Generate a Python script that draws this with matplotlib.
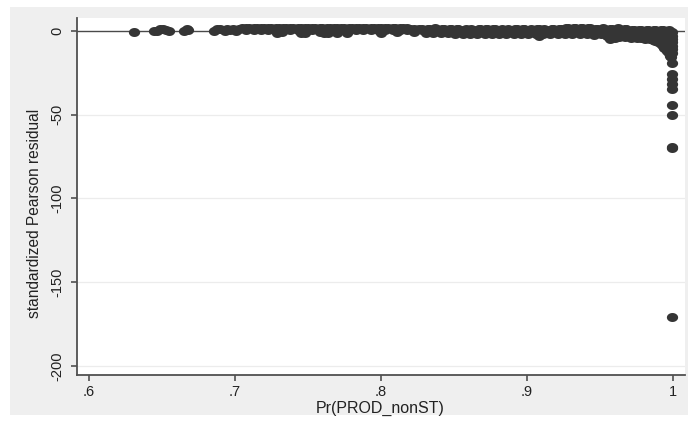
import numpy as np
import matplotlib
matplotlib.use("Agg")
import matplotlib.pyplot as plt
from matplotlib.path import Path
from matplotlib.patches import Rectangle

plt.rcParams['font.family'] = ['Liberation Sans', 'DejaVu Sans']

# ---------------- data ----------------
x_left = [0.631, 0.645, 0.647, 0.649, 0.651, 0.653, 0.655, 0.665, 0.667, 0.668,
          0.686, 0.688, 0.690, 0.693, 0.695, 0.697, 0.699, 0.701, 0.703]
y_left = [-1.0, -0.4, -0.2, 1.0, 1.3, 0.3, -0.3, -0.3, 1.2, 0.2,
          -0.3, 1.2, 0.8, -0.2, 1.2, 0.4, 1.3, -0.2, 1.0]

x_top = [0.705, 0.710, 0.715, 0.720, 0.725, 0.730, 0.735, 0.740, 0.745, 0.750,
         0.755, 0.760, 0.765, 0.770, 0.775, 0.780, 0.785, 0.790, 0.795, 0.800,
         0.805, 0.810, 0.815, 0.820, 0.826, 0.832, 0.837, 0.842, 0.847, 0.852,
         0.857, 0.862, 0.867, 0.872, 0.877, 0.882, 0.887, 0.892, 0.897, 0.902,
         0.907, 0.912, 0.917, 0.922, 0.927, 0.932, 0.937, 0.942, 0.947, 0.952,
         0.957, 0.962, 0.967, 0.972, 0.977, 0.982, 0.987, 0.992, 0.997]
y_top = [1.6, 1.5, 1.7, 1.6, 1.5, 1.6, 1.7, 1.5, 1.6, 1.6,
         1.5, 1.7, 1.6, 1.5, 1.6, 1.7, 1.6, 1.5, 1.6, 1.6,
         1.7, 1.5, 1.6, 1.2, 0.9, 1.0, 1.4, 0.8, 0.9, 0.8,
         0.7, 0.8, 0.9, 0.8, 0.8, 0.7, 0.8, 0.9, 0.8, 0.7,
         0.8, 0.9, 0.8, 0.8, 1.5, 1.6, 1.7, 1.5, 1.0, 1.4,
         0.9, 1.4, 0.8, 0.7, 0.6, 0.7, 0.5, 0.6, 0.5]

x_mid = [0.708, 0.713, 0.718, 0.723, 0.728, 0.733, 0.738, 0.743, 0.748, 0.753,
         0.758, 0.763, 0.768, 0.773, 0.778, 0.783, 0.788, 0.793, 0.798, 0.803,
         0.808, 0.813, 0.818, 0.823, 0.828, 0.833, 0.838, 0.843, 0.848, 0.853,
         0.858, 0.863, 0.868, 0.873, 0.878, 0.883, 0.888, 0.893, 0.898, 0.903,
         0.908, 0.913, 0.918, 0.923, 0.928, 0.933, 0.938, 0.943, 0.948, 0.953,
         0.958, 0.963, 0.968, 0.973, 0.978, 0.983, 0.988, 0.993]
y_mid = [0.3, 0.4, 0.2, 0.3, 0.4, 0.3, 0.2, 0.4, 0.3, 0.3,
         0.2, 0.4, 0.3, 0.3, 0.4, 0.2, 0.3, 0.3, 0.4, 0.2,
         0.3, 0.4, 0.3, 0.2, 0.3, 0.1, 0.0, -0.5, -0.6, -0.4,
         -0.7, -0.6, -0.5, -0.6, -0.7, -0.5, -0.6, -0.6, -0.5, -0.7,
         -0.6, -0.5, -0.6, -0.7, -0.6, -0.5, -0.6, -0.7, -0.8, -1.2,
         -1.3, -1.5, -1.6, -1.8, -2.0, -2.4, -2.8, -3.5]
y_upper = [1.5, 1.6, 1.6, 1.5, 1.7, 1.6, 1.5, 1.6, 1.7, 1.5,
           1.6, 1.6, 1.5, 1.7, 1.6, 1.5, 1.6, 1.6, 1.5, 1.7,
           1.6, 1.5, 1.6, 1.3, 1.0, 1.2, 1.1, 0.9, 0.8, 0.8,
           0.9, 0.7, 0.8, 0.8, 0.9, 0.8, 0.7, 0.8, 0.8, 0.9,
           0.8, 0.7, 0.8, 0.9, 1.6, 1.5, 1.6, 1.4, 1.1, 1.2,
           1.3, 0.9, 0.8, 0.7, 0.7, 0.6, 0.6, 0.5]

x_bot = [0.729, 0.732, 0.745, 0.748, 0.758, 0.761, 0.764, 0.770, 0.777, 0.800,
         0.811, 0.823,
         0.831, 0.836, 0.841, 0.846, 0.851, 0.856, 0.861, 0.866, 0.871, 0.876,
         0.881, 0.886, 0.891, 0.896, 0.901, 0.906, 0.911, 0.916, 0.921, 0.926,
         0.931, 0.936, 0.941, 0.946, 0.951,
         0.908, 0.946, 0.957, 0.960,
         0.955, 0.959, 0.963, 0.967, 0.971, 0.975, 0.978, 0.981, 0.984, 0.986,
         0.988, 0.990, 0.992, 0.993, 0.994, 0.995, 0.996, 0.997, 0.998, 0.9985]
y_bot = [-1.2, -1.0, -1.1, -1.4, -1.0, -1.5, -1.2, -1.3, -1.4, -1.2,
         -0.8, -0.9,
         -1.2, -1.4, -1.5, -1.6, -1.7, -1.8, -1.7, -1.8, -1.9, -1.8,
         -1.7, -1.8, -1.9, -1.8, -1.7, -1.9, -1.8, -1.8, -1.9, -1.8,
         -1.9, -2.0, -1.9, -2.0, -2.2,
         -3.2, -2.6, -4.8, -4.5,
         -3.2, -3.6, -3.8, -4.0, -4.2, -4.3, -4.5, -4.7, -5.0, -5.6,
         -6.3, -7.0, -8.2, -9.0, -10.0, -11.0, -12.3, -13.5, -14.8, -15.7]

x_tail = [0.995, 0.996, 0.997, 0.998, 0.998, 0.999, 0.999, 0.999, 0.999,
          0.999, 0.999, 0.999]
y_tail = [-2.0, -4.0, -6.0, -8.0, -10.5, -1.0, -3.0, -5.0, -7.0,
          -9.0, -11.0, -13.0]

x_out = [0.999, 0.999, 0.999, 0.999, 0.999, 0.999, 0.999, 0.999, 0.999, 0.999]
y_out = [-19.3, -25.8, -28.8, -31.8, -34.8, -44.3, -50.3, -69.2, -70.2, -170.9]

xticks = [0.6, 0.7, 0.8, 0.9, 1.0]
xtick_labels = ['.6', '.7', '.8', '.9', '1']
yticks = [0, -50, -100, -150, -200]
ytick_labels = ['0', '-50', '-100', '-150', '-200']

# ---------------- figure ----------------
W, H = 691, 423
fig = plt.figure(figsize=(W / 100, H / 100), dpi=100)
fig.patch.set_facecolor('white')
fig.add_artist(Rectangle((10 / W, 8 / H), 678 / W, 408 / H,
                         transform=fig.transFigure, facecolor='#efefef',
                         edgecolor='none', zorder=-10))

ax = fig.add_axes([77.3 / W, (H - 375) / H, (685 - 77.3) / W, (375 - 18) / H])
ax.set_facecolor('white')
ax.set_xlim(0.5922, 1.0082)
ax.set_ylim(-205.3, 7.6)

# elliptical marker (picture is horizontally stretched)
t = np.linspace(0, 2 * np.pi, 41)
ell = Path(np.column_stack([1.25 * np.cos(t), np.sin(t)]), closed=True)

for gy in yticks[1:]:
    ax.axhline(gy, color='#ececec', lw=0.9, zorder=0)
ax.axhline(0, color='#4a4a4a', lw=1.0, zorder=1)

mk = dict(linestyle='none', marker=ell, ms=8.1, color='#353535', mew=0, zorder=3)
ax.plot(x_left, y_left, **mk)
ax.plot(x_top, y_top, **mk)
ax.plot(x_mid, y_upper, **mk)
ax.plot(x_mid, y_mid, **mk)
ax.plot(x_bot, y_bot, **mk)
ax.plot(x_tail, y_tail, **mk)
ax.plot(x_out, y_out, **mk)

for s in ['top', 'right']:
    ax.spines[s].set_visible(False)
for s in ['left', 'bottom']:
    ax.spines[s].set_color('#505050')
    ax.spines[s].set_linewidth(1.3)

ax.set_xticks(xticks)
ax.set_xticklabels(xtick_labels, fontsize=10.5, color='#222222')
ax.set_yticks(yticks)
ax.set_yticklabels(ytick_labels, fontsize=10.5, color='#222222', rotation=90, va='center')
ax.tick_params(axis='both', direction='out', length=4.5, width=1.2, color='#505050')
ax.tick_params(axis='x', pad=3)
ax.tick_params(axis='y', pad=5)

fig.text(380 / W, 1 - 408 / H, 'Pr(PROD_nonST)', ha='center', va='center',
         fontsize=11.5, color='#222222')
fig.text(35 / W, 1 - 213 / H, 'standardized Pearson residual', ha='center',
         va='center', rotation=90, fontsize=11.2, color='#222222')

fig.savefig('out.png', dpi=100, facecolor='white')
